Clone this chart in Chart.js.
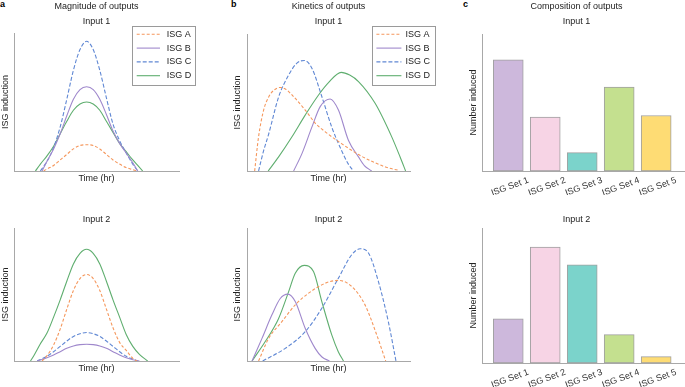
<!DOCTYPE html>
<html><head><meta charset="utf-8">
<script src="https://cdn.jsdelivr.net/npm/chart.js@4.4.1/dist/chart.umd.min.js"></script>
<style>
html,body{margin:0;padding:0;background:#fff}
body{width:685px;height:387px;overflow:hidden;position:relative;font-family:'Liberation Sans',Arial,sans-serif}
canvas{position:absolute}
.lbl{position:absolute;font-weight:bold;font-size:9px;line-height:9px;color:#000}
</style></head><body>
<div class="lbl" style="left:0px;top:0px">a</div>
<div class="lbl" style="left:231px;top:0px">b</div>
<div class="lbl" style="left:463px;top:0px">c</div>
<canvas id="a1" width="228" height="184" style="left:0px;top:0px"></canvas>
<canvas id="b1" width="210" height="184" style="left:232px;top:0px"></canvas>
<canvas id="c1" width="217" height="195" style="left:468px;top:0px"></canvas>
<canvas id="a2" width="228" height="164" style="left:0px;top:210px"></canvas>
<canvas id="b2" width="210" height="164" style="left:232px;top:210px"></canvas>
<canvas id="c2" width="217" height="177" style="left:468px;top:210px"></canvas>
<script>
// ---------- DATA ----------
const seriesNames = ['ISG A', 'ISG B', 'ISG C', 'ISG D'];

// (a) Magnitude of outputs, Input 1
const magIn1_A_t = [18, 20, 24, 28, 32, 36, 40, 44, 48, 52, 56, 60, 64, 68, 72, 74.5];
const magIn1_A_y = [0, 1.5, 4, 8, 12, 16, 18.5, 19, 18.5, 16, 12, 8, 5, 2.5, 1, 0];
const magIn1_B_t = [17, 20, 24, 28, 32, 36, 40, 44, 48, 52, 56, 60, 64, 68, 72, 75];
const magIn1_B_y = [0, 7, 16, 27, 40, 52, 59, 61, 59, 52, 41, 29, 20, 13, 6, 0];
const magIn1_C_t = [16, 20, 24, 28, 32, 36, 40, 44, 48, 52, 56, 60, 64, 68, 72, 75];
const magIn1_C_y = [0, 7, 17, 32, 52, 73, 88, 94, 88, 73, 53, 34, 22, 13, 5, 0];
const magIn1_D_t = [13, 16, 20, 24, 28, 32, 36, 40, 44, 48, 52, 56, 60, 64, 68, 72, 75, 78];
const magIn1_D_y = [0, 5, 11, 18, 27, 36, 44, 48.5, 50, 48.5, 44, 36, 28, 20, 14, 8, 4, 0];

// (a) Magnitude of outputs, Input 2
const magIn2_A_t = [17, 20, 24, 28, 32, 36, 40, 44, 48, 52, 56, 60, 64, 68, 72, 74.5];
const magIn2_A_y = [0, 4, 12, 24, 39, 53, 62, 65, 62, 53, 39, 25, 14, 8, 2, 0];
const magIn2_B_t = [14, 20, 24, 28, 32, 36, 40, 44, 48, 52, 56, 60, 64, 68, 72, 76];
const magIn2_B_y = [0, 2.5, 4.5, 7, 9.5, 11.3, 12.3, 12.6, 12.3, 11.3, 9.5, 7, 4.5, 2.5, 1, 0];
const magIn2_C_t = [14, 20, 24, 28, 32, 36, 40, 44, 48, 52, 56, 60, 64, 68, 72, 75];
const magIn2_C_y = [0, 3.5, 7, 11, 15, 18.5, 20.5, 21.4, 20.5, 18.5, 15, 11, 7, 3.5, 1.5, 0];
const magIn2_D_t = [10, 12, 16, 20, 24, 28, 32, 36, 40, 44, 48, 52, 56, 60, 64, 68, 72, 76, 81];
const magIn2_D_y = [0, 4, 13, 21, 33, 46, 60, 73, 81, 84, 81, 73, 60, 46, 33, 20, 11, 5, 0];

// (b) Kinetics of outputs, Input 1
const kinIn1_A_t = [4.7, 7.1, 10.2, 13.3, 16.5, 20.4, 24, 27.6, 35.7, 41.8, 48, 58, 68.4, 78.6, 86, 93];
const kinIn1_A_y = [0, 25, 44.5, 54, 59, 61, 59.5, 55.5, 44.5, 35, 28.6, 20, 12, 6, 2.5, 0.5];
const kinIn1_B_t = [28.6, 33.7, 39.8, 44.9, 51, 56.1, 62.2, 68.4, 72, 76.5];
const kinIn1_B_y = [0, 12.7, 32, 47, 52.6, 44.5, 22.5, 10.3, 4, 0];
const kinIn1_C_t = [7.1, 10, 13.3, 19.4, 25.5, 30.6, 35.1, 39.8, 46, 52, 58, 62, 65.3];
const kinIn1_C_y = [0, 14, 27, 54, 70, 78.7, 80.7, 75, 54, 32, 15, 5.4, 0];
const kinIn1_D_t = [13, 19.4, 27.6, 35.7, 43.9, 50, 57.8, 63, 68.4, 78.6, 88.8, 94, 97.3];
const kinIn1_D_y = [0, 10.3, 25, 40.8, 55.5, 64.5, 72, 70, 65.3, 49.4, 24.9, 10, 0];

// (b) Kinetics of outputs, Input 2
const kinIn2_A_t = [7.1, 13.3, 21.4, 29.6, 37.8, 48, 56.1, 64.3, 72.4, 79.6, 85.1];
const kinIn2_A_y = [0, 17, 29.6, 42.2, 51, 58.5, 60.6, 56, 42.2, 19.6, 0];
const kinIn2_B_t = [3.1, 9.2, 15.3, 20.4, 25.1, 29.6, 35.7, 41.8, 46, 50.6];
const kinIn2_B_y = [0, 17, 34.7, 47, 50.3, 44.7, 24.6, 9.5, 3, 0];
const kinIn2_C_t = [9.6, 23.5, 35.7, 45.9, 56.1, 64.3, 69.4, 74.5, 80.6, 86.7, 91.4];
const kinIn2_C_y = [0, 9.5, 22, 39.7, 62.3, 80, 84.4, 81.2, 59.8, 29.6, 0];
const kinIn2_D_t = [3.1, 11.2, 19.4, 25.5, 29.6, 35.1, 40.8, 45.9, 52, 56, 59.2];
const kinIn2_D_y = [0, 14.6, 32, 52, 66, 71.9, 67.3, 44.7, 19.6, 7, 0];

// (c) Composition of outputs
const setNames = ['ISG Set 1', 'ISG Set 2', 'ISG Set 3', 'ISG Set 4', 'ISG Set 5'];
const setPos = [1, 2, 3, 4, 5];
const compIn1 = [81.2, 39.3, 13.4, 61.2, 40.5];
const compIn2 = [32.8, 85.9, 72.8, 21, 4.7];

// ---------- STYLE ----------
const FONT = "'Liberation Sans', Arial, sans-serif";
Chart.defaults.font.family = FONT;
Chart.defaults.font.size = 9;
Chart.defaults.color = '#222';
const AXIS = '#a8a8a8';
const seriesStyle = [
  {color: '#F5975C', dash: [3, 2]},
  {color: '#9F88CC', dash: []},
  {color: '#6088D4', dash: [4, 2]},
  {color: '#5FAE6F', dash: []}
];
const setColors = ['#CDB8DC', '#F7D4E5', '#7BD3CB', '#C4E08F', '#FEDC74'];

const boxLegend = {
  id: 'boxLegend',
  afterDraw(chart, args, o) {
    if (!o || !o.show) return;
    const ctx = chart.ctx;
    ctx.save();
    ctx.fillStyle = '#fff';
    ctx.fillRect(o.x, o.y, o.w, o.h);
    ctx.strokeStyle = '#9a9a9a';
    ctx.lineWidth = 1;
    ctx.strokeRect(Math.round(o.x) + 0.5, Math.round(o.y) + 0.5, Math.round(o.w), Math.round(o.h));
    chart.data.datasets.forEach((ds, i) => {
      const yy = o.y + o.first + i * o.gap;
      ctx.beginPath();
      ctx.setLineDash(ds.borderDash || []);
      ctx.strokeStyle = ds.borderColor;
      ctx.lineWidth = ds.borderWidth;
      ctx.moveTo(o.x + o.l0, yy);
      ctx.lineTo(o.x + o.l1, yy);
      ctx.stroke();
      ctx.setLineDash([]);
      ctx.fillStyle = '#222';
      ctx.font = '9px ' + FONT;
      ctx.textBaseline = 'middle';
      ctx.textAlign = 'left';
      ctx.fillText(ds.label, o.x + o.tx, yy);
    });
    ctx.restore();
  }
};

function hiddenAxis(extra) {
  return Object.assign({
    ticks: {display: false},
    grid: {display: false, drawTicks: false},
    border: {display: true, color: AXIS, width: 1}
  }, extra);
}

function lineChart(id, ts, ys, titles, padTop, padBottom, sideW, padRight, legend) {
  const datasets = seriesNames.map((name, k) => ({
    label: name,
    data: ts[k].map((t, i) => ({x: t, y: ys[k][i]})),
    borderColor: seriesStyle[k].color,
    borderDash: seriesStyle[k].dash,
    borderWidth: 1.1,
    pointRadius: 0,
    fill: false,
    cubicInterpolationMode: 'monotone'
  }));
  const plugins = {
    legend: {display: false},
    tooltip: {enabled: false},
    title: {display: true, text: titles[0], font: {size: 9, weight: 'normal'}, color: '#222', padding: padTop},
    subtitle: titles[1] ? {display: true, text: titles[1], font: {size: 9}, color: '#222', padding: padBottom} : {display: false},
    boxLegend: legend || {show: false}
  };
  return new Chart(document.getElementById(id), {
    type: 'line',
    data: {datasets},
    plugins: [boxLegend],
    options: {
      responsive: false, animation: false, devicePixelRatio: 1,
      layout: {padding: {left: 0, top: 0, bottom: 0, right: padRight}},
      plugins,
      scales: {
        x: hiddenAxis({type: 'linear', min: 0, max: 100,
          title: {display: true, text: 'Time (hr)', padding: 0, color: '#222', font: {size: 9}},
          afterFit: s => { s.height = 13; }}),
        y: hiddenAxis({type: 'linear', min: 0, max: 100,
          title: {display: true, text: 'ISG induction', padding: 0, color: '#222', font: {size: 9}},
          afterFit: s => { s.width = sideW; }}),
        y2: {type: 'linear', position: 'right', display: true,
          ticks: {display: false}, grid: {display: false, drawTicks: false}, border: {display: false},
          afterFit: s => { s.width = sideW; }}
      }
    }
  });
}

function barChart(id, vals, titles, padTop, padBottom) {
  return new Chart(document.getElementById(id), {
    type: 'bar',
    data: {datasets: [{
      data: setPos.map((p, i) => ({x: p, y: vals[i]})),
      backgroundColor: setColors,
      borderColor: '#a0a0a0',
      borderWidth: 1,
      borderSkipped: false,
      barThickness: 30
    }]},
    options: {
      responsive: false, animation: false, devicePixelRatio: 1,
      layout: {padding: 0},
      plugins: {
        legend: {display: false},
        tooltip: {enabled: false},
        title: {display: true, text: titles[0], font: {size: 9, weight: 'normal'}, color: '#222', padding: padTop},
        subtitle: titles[1] ? {display: true, text: titles[1], font: {size: 9}, color: '#222', padding: padBottom} : {display: false}
      },
      scales: {
        x: {type: 'linear', min: 0.29, max: 5.78, offset: false,
          afterBuildTicks: s => { s.ticks = setPos.map(v => ({value: v})); },
          ticks: {autoSkip: false, minRotation: 20, maxRotation: 20, padding: 4, labelOffset: 20,
            color: '#333', font: {size: 9},
            callback: (v, i) => setNames[i]},
          grid: {display: false, drawTicks: false},
          border: {display: true, color: AXIS, width: 1},
          afterFit: s => { s.height = 24; s.paddingLeft = 0; s.paddingRight = 0; }},
        y: hiddenAxis({type: 'linear', min: 0, max: 100,
          title: {display: true, text: 'Number induced', padding: 0, color: '#222', font: {size: 9}},
          afterFit: s => { s.width = 14; }})
      }
    }
  });
}

lineChart('a1',
  [magIn1_A_t, magIn1_B_t, magIn1_C_t, magIn1_D_t],
  [magIn1_A_y, magIn1_B_y, magIn1_C_y, magIn1_D_y],
  ['Magnitude of outputs', 'Input 1'], {top: 1, bottom: 4}, {top: 0, bottom: 6.4}, 14, 35,
  {show: true, x: 132, y: 26, w: 63, h: 59, first: 8.3, gap: 13.8, l0: 4.7, l1: 28, tx: 34.7});
lineChart('b1',
  [kinIn1_A_t, kinIn1_B_t, kinIn1_C_t, kinIn1_D_t],
  [kinIn1_A_y, kinIn1_B_y, kinIn1_C_y, kinIn1_D_y],
  ['Kinetics of outputs', 'Input 1'], {top: 1, bottom: 4}, {top: 0, bottom: 7.4}, 15, 17,
  {show: true, x: 140, y: 26, w: 63, h: 59, first: 8.3, gap: 13.8, l0: 4.4, l1: 29.4, tx: 33.4});
barChart('c1', compIn1, ['Composition of outputs', 'Input 1'], {top: 1, bottom: 4}, {top: 0, bottom: 7.4});

lineChart('a2',
  [magIn2_A_t, magIn2_B_t, magIn2_C_t, magIn2_D_t],
  [magIn2_A_y, magIn2_B_y, magIn2_C_y, magIn2_D_y],
  ['Input 2'], {top: 4, bottom: 3.2}, null, 14, 35, null);
lineChart('b2',
  [kinIn2_A_t, kinIn2_B_t, kinIn2_C_t, kinIn2_D_t],
  [kinIn2_A_y, kinIn2_B_y, kinIn2_C_y, kinIn2_D_y],
  ['Input 2'], {top: 4, bottom: 3.2}, null, 15, 17, null);
barChart('c2', compIn2, ['Input 2'], {top: 4, bottom: 3.2}, null);
</script>
</body></html>
